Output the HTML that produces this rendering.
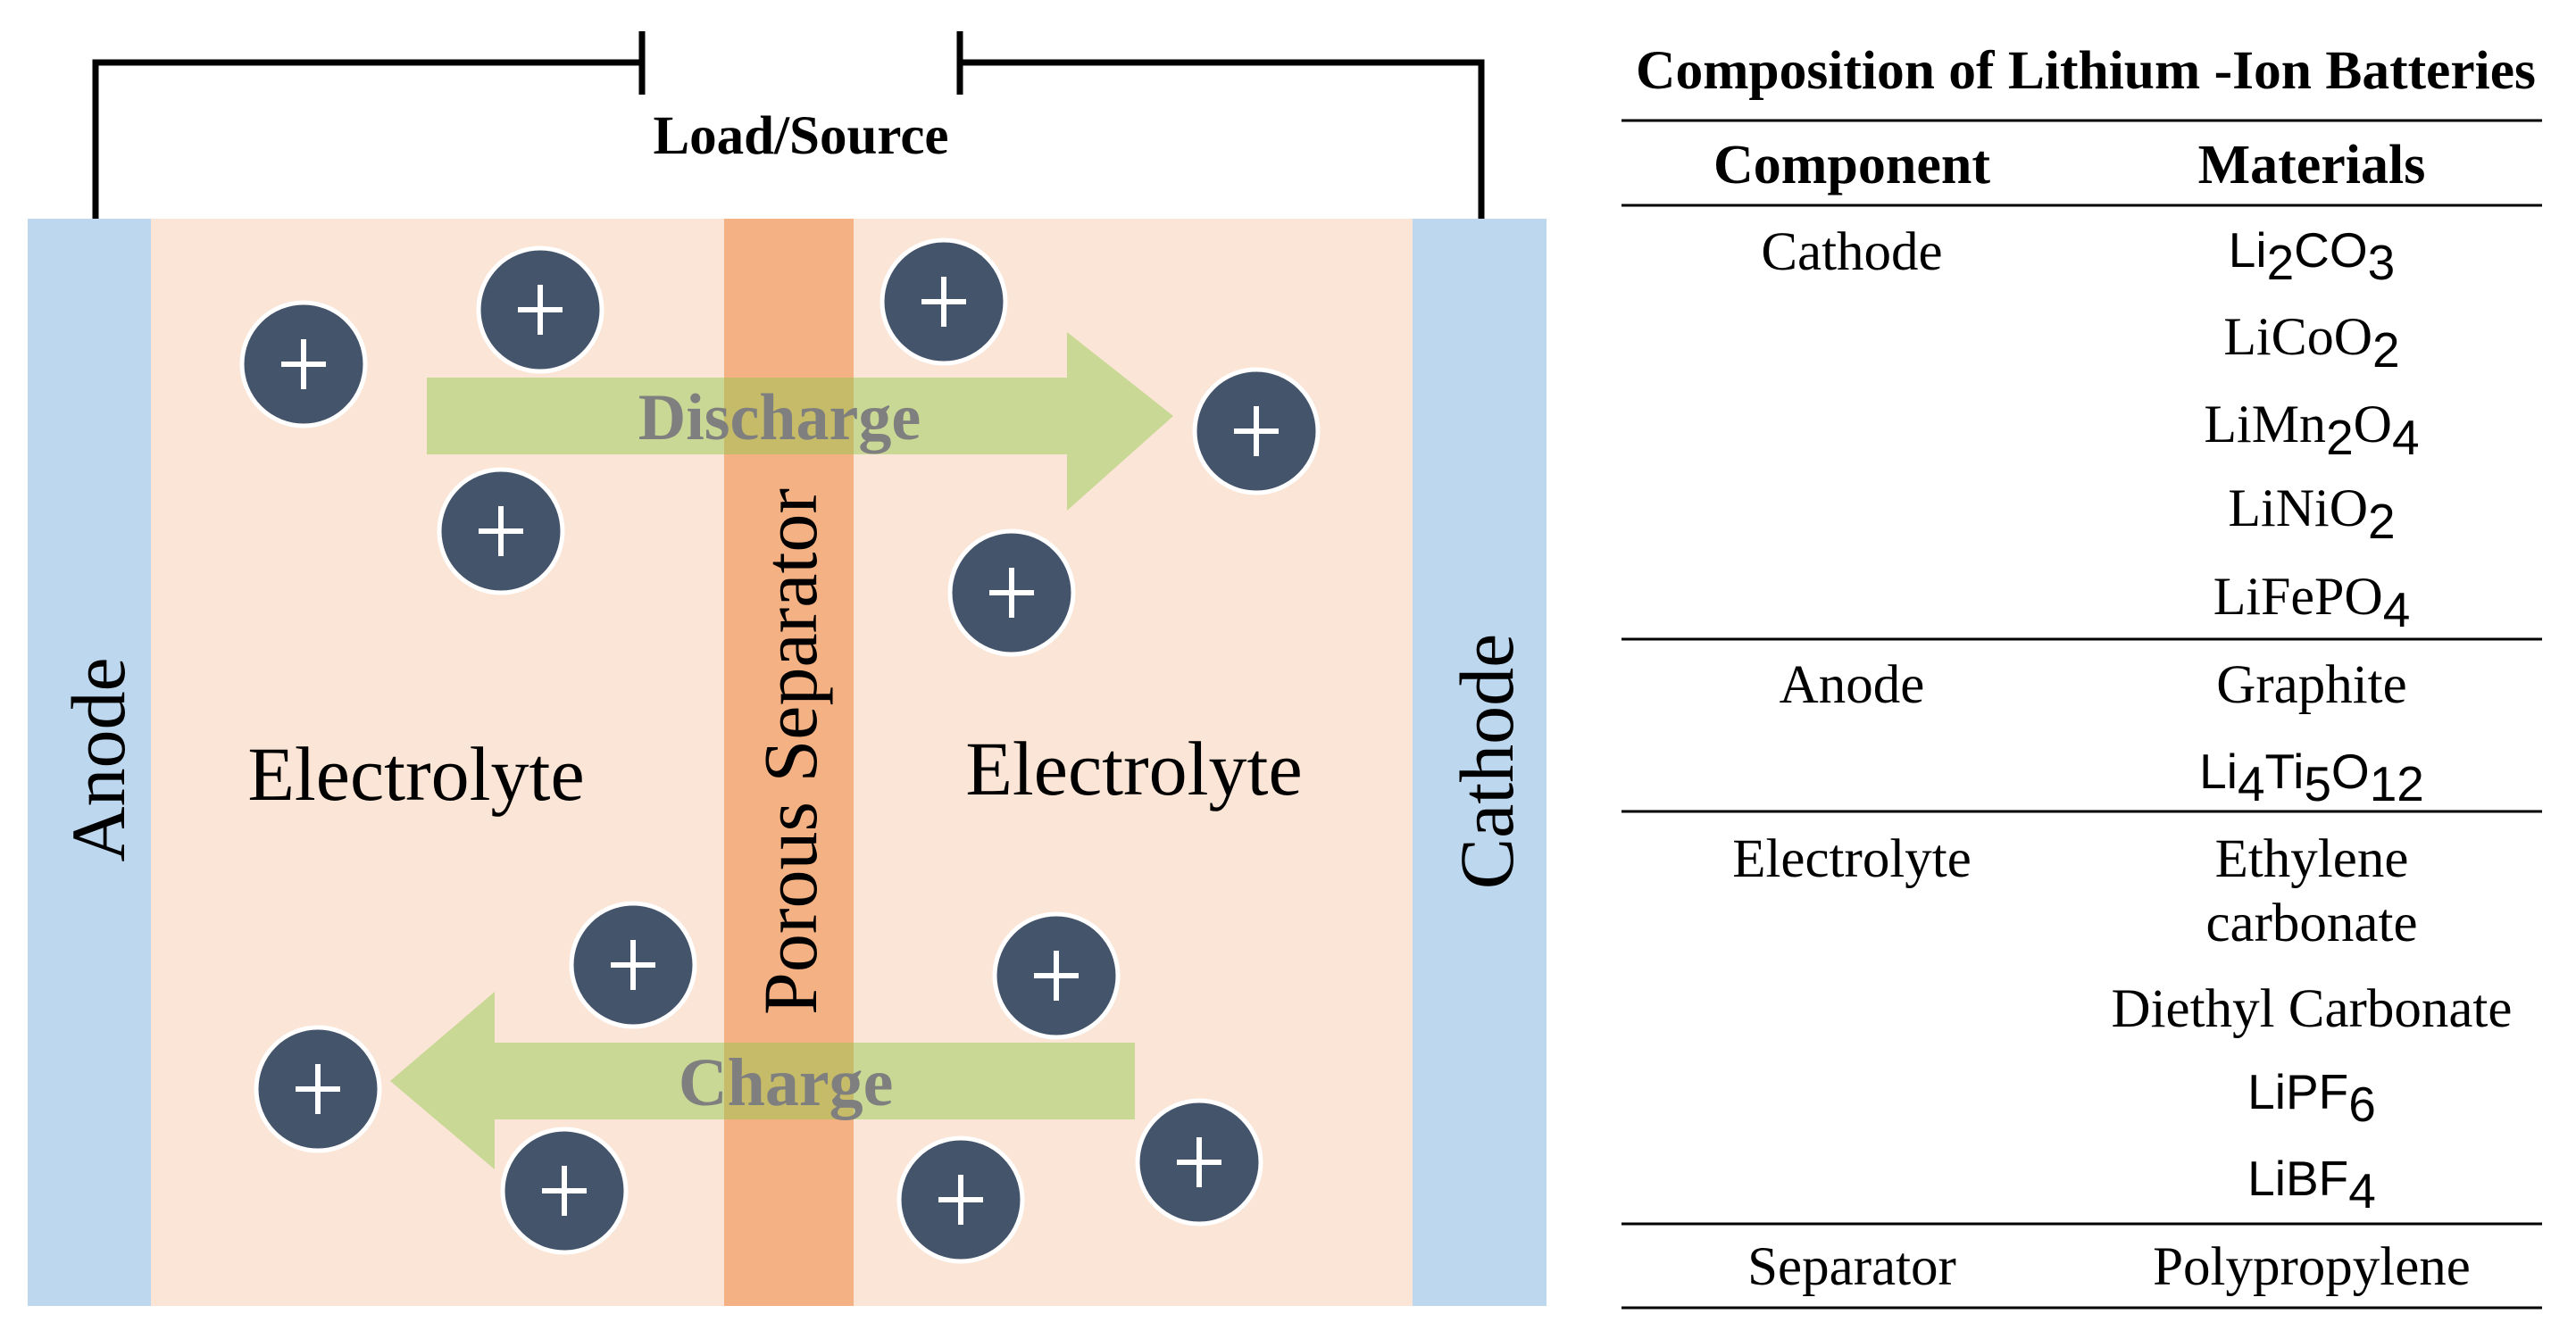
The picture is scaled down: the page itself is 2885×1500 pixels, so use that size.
<!DOCTYPE html>
<html><head><meta charset="utf-8"><style>
html,body{margin:0;padding:0;background:#fff;}
svg{display:block;}
.t{font-family:"Liberation Serif",serif;}
.s{font-family:"Liberation Sans",sans-serif;}
</style></head><body>
<svg width="2885" height="1500" viewBox="0 0 2885 1500" xmlns="http://www.w3.org/2000/svg">
<g stroke="#000" stroke-width="7" fill="none">
<polyline points="107,245 107,70 719,70"/>
<line x1="719" y1="35" x2="719" y2="106"/>
<polyline points="1659,245 1659,70 1075,70"/>
<line x1="1075" y1="35" x2="1075" y2="106"/>
</g>
<text x="897" y="172" text-anchor="middle" class="t" font-weight="bold" font-size="61">Load/Source</text>
<rect x="31" y="245" width="1701" height="1218" fill="#fbe5d6"/>
<rect x="31" y="245" width="138" height="1218" fill="#bdd7ee"/>
<rect x="1582" y="245" width="150" height="1218" fill="#bdd7ee"/>
<rect x="811" y="245" width="145" height="1218" fill="#f4b183"/>
<g fill="rgb(140,200,70)" fill-opacity="0.45">
<polygon points="478,423 1195,423 1195,372 1314,466 1195,572 1195,509 478,509"/>
<polygon points="1271,1168 554,1168 554,1111 437,1211 554,1310 554,1254 1271,1254"/>
</g>
<text x="873" y="492" text-anchor="middle" class="t" font-weight="bold" font-size="74" fill="#7f7f7f">Discharge</text>
<text x="880" y="1238" text-anchor="middle" class="t" font-weight="bold" font-size="76" fill="#7f7f7f">Charge</text>
<g>
<g transform="translate(340,408)"><circle r="69" fill="#44546a" stroke="#fff" stroke-width="5"/><path d="M-25 0H25M0 -28V28" stroke="#fff" stroke-width="6"/></g>
<g transform="translate(605,347)"><circle r="69" fill="#44546a" stroke="#fff" stroke-width="5"/><path d="M-25 0H25M0 -28V28" stroke="#fff" stroke-width="6"/></g>
<g transform="translate(1057,338)"><circle r="69" fill="#44546a" stroke="#fff" stroke-width="5"/><path d="M-25 0H25M0 -28V28" stroke="#fff" stroke-width="6"/></g>
<g transform="translate(1407,483)"><circle r="69" fill="#44546a" stroke="#fff" stroke-width="5"/><path d="M-25 0H25M0 -28V28" stroke="#fff" stroke-width="6"/></g>
<g transform="translate(561,595)"><circle r="69" fill="#44546a" stroke="#fff" stroke-width="5"/><path d="M-25 0H25M0 -28V28" stroke="#fff" stroke-width="6"/></g>
<g transform="translate(1133,664)"><circle r="69" fill="#44546a" stroke="#fff" stroke-width="5"/><path d="M-25 0H25M0 -28V28" stroke="#fff" stroke-width="6"/></g>
<g transform="translate(709,1081)"><circle r="69" fill="#44546a" stroke="#fff" stroke-width="5"/><path d="M-25 0H25M0 -28V28" stroke="#fff" stroke-width="6"/></g>
<g transform="translate(1183,1093)"><circle r="69" fill="#44546a" stroke="#fff" stroke-width="5"/><path d="M-25 0H25M0 -28V28" stroke="#fff" stroke-width="6"/></g>
<g transform="translate(356,1220)"><circle r="69" fill="#44546a" stroke="#fff" stroke-width="5"/><path d="M-25 0H25M0 -28V28" stroke="#fff" stroke-width="6"/></g>
<g transform="translate(632,1334)"><circle r="69" fill="#44546a" stroke="#fff" stroke-width="5"/><path d="M-25 0H25M0 -28V28" stroke="#fff" stroke-width="6"/></g>
<g transform="translate(1076,1344)"><circle r="69" fill="#44546a" stroke="#fff" stroke-width="5"/><path d="M-25 0H25M0 -28V28" stroke="#fff" stroke-width="6"/></g>
<g transform="translate(1343,1302)"><circle r="69" fill="#44546a" stroke="#fff" stroke-width="5"/><path d="M-25 0H25M0 -28V28" stroke="#fff" stroke-width="6"/></g>
</g>
<text x="466" y="896" text-anchor="middle" class="t" font-size="86">Electrolyte</text>
<text x="1270" y="890" text-anchor="middle" class="t" font-size="86">Electrolyte</text>
<text transform="translate(139,851) rotate(-90)" text-anchor="middle" class="t" font-size="86">Anode</text>
<text transform="translate(1694,853) rotate(-90)" text-anchor="middle" class="t" font-size="86">Cathode</text>
<text transform="translate(914,842) rotate(-90)" text-anchor="middle" class="t" font-size="86">Porous Separator</text>
<text x="2336" y="99" text-anchor="middle" class="t" font-weight="bold" font-size="61.5">Composition of Lithium -Ion Batteries</text>
<g stroke="#000" stroke-width="3">
<line x1="1816" y1="135" x2="2847" y2="135"/>
<line x1="1816" y1="230" x2="2847" y2="230"/>
<line x1="1816" y1="716" x2="2847" y2="716"/>
<line x1="1816" y1="909" x2="2847" y2="909"/>
<line x1="1816" y1="1371" x2="2847" y2="1371"/>
<line x1="1816" y1="1465" x2="2847" y2="1465"/>
</g>
<g class="t" font-size="61" text-anchor="middle">
<text x="2074" y="205" font-weight="bold" font-size="62">Component</text>
<text x="2589" y="205" font-weight="bold" font-size="62">Materials</text>
<text x="2074" y="302">Cathode</text>
<text x="2074" y="787">Anode</text>
<text x="2074" y="982">Electrolyte</text>
<text x="2074" y="1439">Separator</text>
<text x="2589" y="787">Graphite</text>
<text x="2589" y="982">Ethylene</text>
<text x="2589" y="1054">carbonate</text>
<text x="2589" y="1150">Diethyl Carbonate</text>
<text x="2589" y="1439">Polypropylene</text>
</g>
<g font-size="55" text-anchor="middle">
<text x="2589" y="299" class="s">Li<tspan dy="14">2</tspan><tspan dy="-14">CO</tspan><tspan dy="14">3</tspan></text>
<text x="2589" y="397" class="t" font-size="60">LiCoO<tspan class="s" font-size="55" dy="14">2</tspan></text>
<text x="2589" y="495" class="t" font-size="60">LiMn<tspan class="s" font-size="55" dy="14">2</tspan><tspan dy="-14">O</tspan><tspan class="s" font-size="55" dy="14">4</tspan></text>
<text x="2589" y="589" class="t" font-size="60">LiNiO<tspan class="s" font-size="55" dy="14">2</tspan></text>
<text x="2589" y="688" class="t" font-size="60">LiFePO<tspan class="s" font-size="55" dy="14">4</tspan></text>
<text x="2589" y="883" class="s">Li<tspan dy="14">4</tspan><tspan dy="-14">Ti</tspan><tspan dy="14">5</tspan><tspan dy="-14">O</tspan><tspan dy="14">12</tspan></text>
<text x="2589" y="1242" class="s">LiPF<tspan dy="14">6</tspan></text>
<text x="2589" y="1339" class="s">LiBF<tspan dy="14">4</tspan></text>
</g>
</svg>
</body></html>
